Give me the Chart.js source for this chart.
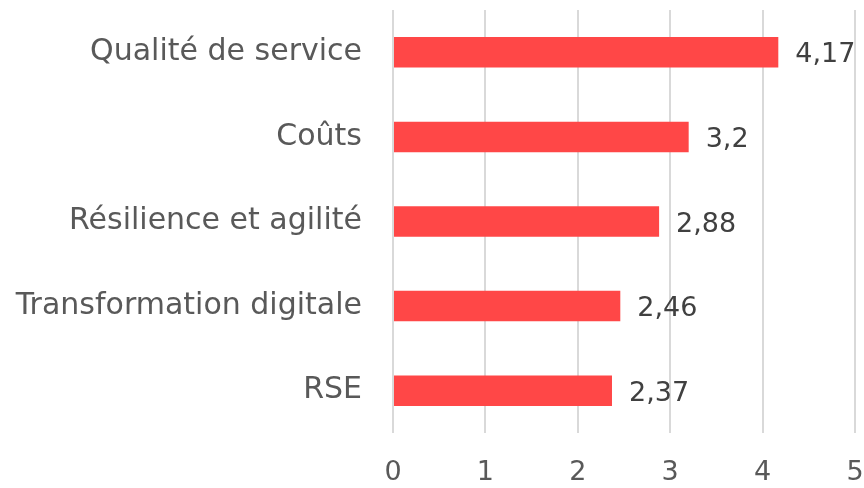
<!DOCTYPE html>
<html>
<head>
<meta charset="utf-8">
<script src="https://cdn.jsdelivr.net/npm/chart.js@4/dist/chart.umd.min.js"></script>
<style>
  html, body { margin: 0; padding: 0; background: #fff; }
  #wrap { width: 864px; height: 488px; }
</style>
</head>
<body>
<div id="wrap"><canvas id="chart"></canvas></div>
<script>
const categories = ["Qualité de service", "Coûts", "Résilience et agilité", "Transformation digitale", "RSE"];
const scores = [4.17, 3.2, 2.88, 2.46, 2.37];
const xTicks = [0, 1, 2, 3, 4, 5];

const FONT = "'DejaVu Sans', sans-serif";

// value labels to the right of each bar, French decimal comma
const barLabels = {
  id: "barLabels",
  afterDatasetsDraw(chart) {
    const ctx = chart.ctx;
    const meta = chart.getDatasetMeta(0);
    ctx.save();
    ctx.font = "27px " + FONT;
    ctx.fillStyle = "#404040";
    ctx.textAlign = "left";
    ctx.textBaseline = "middle";
    meta.data.forEach((bar, i) => {
      const txt = String(scores[i]).replace(".", ",");
      ctx.fillText(txt, bar.x + 17, bar.y + 3);
    });
    ctx.restore();
  }
};

new Chart(document.getElementById("chart"), {
  type: "bar",
  data: {
    labels: categories,
    datasets: [{
      data: scores,
      backgroundColor: "#FF4747",
      categoryPercentage: 1,
      barPercentage: 0.36
    }]
  },
  options: {
    indexAxis: "y",
    responsive: true,
    maintainAspectRatio: false,
    animation: false,
    layout: { padding: { top: 10, right: 0, left: 0, bottom: 0 } },
    plugins: { legend: { display: false }, tooltip: { enabled: false } },
    scales: {
      x: {
        min: 0,
        max: 5,
        afterBuildTicks(axis) { axis.ticks = xTicks.map(v => ({ value: v })); },
        afterFit(axis) {
          axis.height = 55;
          axis.paddingLeft = 0;
          axis.paddingRight = 9;
        },
        border: { display: false },
        grid: { color: "#D9D9D9", lineWidth: 2, drawTicks: false },
        ticks: { color: "#595959", font: { family: FONT, size: 27 }, padding: 24 }
      },
      y: {
        afterFit(axis) {
          axis.width = 393;
          axis.paddingTop = 0;
          axis.paddingBottom = 0;
        },
        border: { display: false },
        grid: { display: false, drawTicks: false },
        ticks: { color: "#595959", font: { family: FONT, size: 30 }, padding: 31 }
      }
    }
  },
  plugins: [barLabels]
});
</script>
</body>
</html>
